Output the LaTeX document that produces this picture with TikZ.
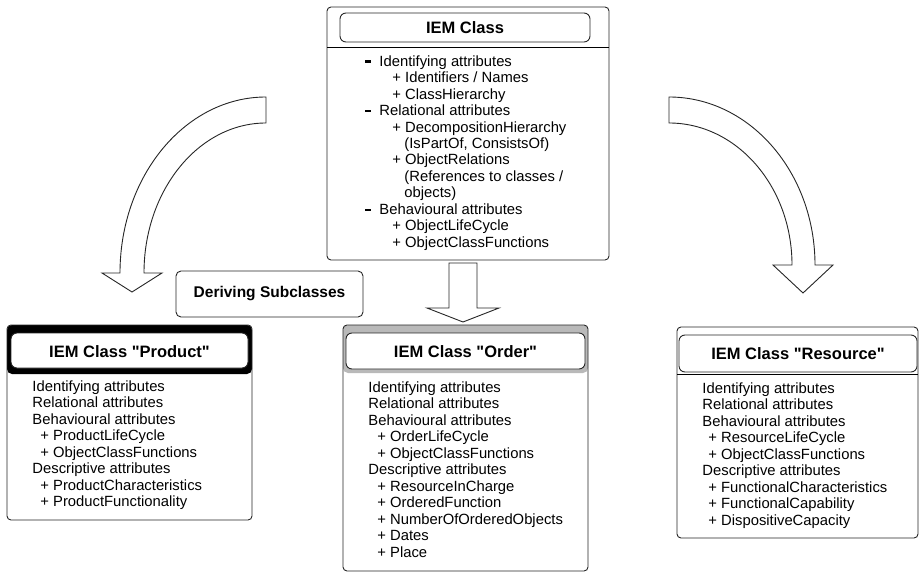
\documentclass[tikz,border=0pt]{standalone}
\usepackage{fontspec}
\setmainfont{Liberation Sans}[Ligatures=TeXOff]
\newcommand\tl[4]{\node[txt] (#1) at (#2,#3) {#4};}
\newcommand\dashitem[1]{\makebox[14pt][l]{\rule[3.6pt]{5.5pt}{2.2pt}}#1}
\begin{document}
\begin{tikzpicture}[x=1pt,y=-1pt,
  line width=0.9pt,
  box/.style={draw=black!85, rounded corners=4pt},
  hdr/.style={draw=black!85, rounded corners=6pt, fill=white},
  ttl/.style={font=\fontsize{16.5}{18}\selectfont\bfseries, inner sep=0pt, text height=11.8pt, text depth=0pt, anchor=center},
  txt/.style={font=\fontsize{14.8}{16}\selectfont, inner sep=0pt, text height=10.6pt, text depth=0pt, anchor=west},
  blockarrow/.style={draw=black!85, fill=white, line join=miter}]
\useasboundingbox (0,0) rectangle (920,572);

% ---------- top box ----------
\draw[box] (327,7) rectangle (609,260);
\draw (327,47) -- (609,47);
\draw[hdr] (340,13) rectangle (590,42);
\node[ttl] (topT) at (465,27.5) {IEM Class};
\tl{t1}{365}{61}{\dashitem{Identifying attributes}}
\tl{t2}{392}{77.5}{+ Identifiers / Names}
\tl{t3}{392}{94}{+ ClassHierarchy}
\tl{t4}{365}{110.3}{\dashitem{Relational attributes}}
\tl{t5}{392}{126.8}{+ DecompositionHierarchy}
\tl{t6}{404}{143.2}{(IsPartOf, ConsistsOf)}
\tl{t7}{392}{159.7}{+ ObjectRelations}
\tl{t8}{404}{176.1}{(References to classes /}
\tl{t9}{404}{192.6}{objects)}
\tl{t10}{365}{209}{\dashitem{Behavioural attributes}}
\tl{t11}{392}{225.5}{+ ObjectLifeCycle}
\tl{t12}{392}{242}{+ ObjectClassFunctions}

% ---------- arrows ----------
\draw[blockarrow] (266,97) .. controls (185.4,97) and (120,175.8) .. (120,273)
  -- (102,273) -- (132,292) -- (162,273) -- (144,273)
  .. controls (144,190.2) and (198.7,123) .. (266,123) -- cycle;
\draw[blockarrow] (669,97) .. controls (749.6,97) and (815,172.3) .. (815,265)
  -- (833,265) -- (803,293) -- (773,265) -- (792,265)
  .. controls (792,186.6) and (736.9,123) .. (669,123) -- cycle;
\draw[blockarrow] (449,263) -- (477,263) -- (477,308) -- (499,308) -- (463,322)
  -- (427,308) -- (449,308) -- cycle;

% ---------- deriving subclasses ----------
\node[draw=black!85, rounded corners=5pt, minimum width=187pt, minimum height=46pt,
  font=\fontsize{15.5}{17}\selectfont\bfseries] (der) at (269.5,294) {Deriving Subclasses};

% ---------- product ----------
\fill[black, rounded corners=5pt] (7,325) rectangle (252,374);
\draw[box] (7,325) rectangle (252,520);
\draw[hdr] (11,333) rectangle (248,368);
\node[ttl] (pT) at (129.5,351.5) {IEM Class "Product"};
\tl{p1}{32}{386}{Identifying attributes}
\tl{p2}{32}{402.5}{Relational attributes}
\tl{p3}{32}{419}{Behavioural attributes}
\tl{p4}{40}{435.5}{+ ProductLifeCycle}
\tl{p5}{40}{452}{+ ObjectClassFunctions}
\tl{p6}{32}{468.5}{Descriptive attributes}
\tl{p7}{40}{485}{+ ProductCharacteristics}
\tl{p8}{40}{501.5}{+ ProductFunctionality}

% ---------- order ----------
\fill[gray!55, rounded corners=5pt] (343,325) rectangle (588,373);
\draw[box] (343,325) rectangle (588,571);
\draw[hdr] (346,333) rectangle (585,369);
\node[ttl] (oT) at (465.5,351.5) {IEM Class "Order"};
\tl{o1}{368}{387}{Identifying attributes}
\tl{o2}{368}{403.5}{Relational attributes}
\tl{o3}{368}{420}{Behavioural attributes}
\tl{o4}{377}{436.5}{+ OrderLifeCycle}
\tl{o5}{377}{453}{+ ObjectClassFunctions}
\tl{o6}{368}{469.5}{Descriptive attributes}
\tl{o7}{377}{486}{+ ResourceInCharge}
\tl{o8}{377}{502.5}{+ OrderedFunction}
\tl{o9}{377}{519}{+ NumberOfOrderedObjects}
\tl{o10}{377}{535.5}{+ Dates}
\tl{o11}{377}{552}{+ Place}

% ---------- resource ----------
\draw[box] (677,327) rectangle (918,538);
\draw (677,374) -- (918,374);
\draw[hdr] (679,335) rectangle (917,372);
\node[ttl] (rT) at (798,353.5) {IEM Class "Resource"};
\tl{r1}{702}{388}{Identifying attributes}
\tl{r2}{702}{404.5}{Relational attributes}
\tl{r3}{702}{421}{Behavioural attributes}
\tl{r4}{708}{437.5}{+ ResourceLifeCycle}
\tl{r5}{708}{454}{+ ObjectClassFunctions}
\tl{r6}{702}{470.5}{Descriptive attributes}
\tl{r7}{708}{487}{+ FunctionalCharacteristics}
\tl{r8}{708}{503.5}{+ FunctionalCapability}
\tl{r9}{708}{520}{+ DispositiveCapacity}
\end{tikzpicture}
\end{document}
